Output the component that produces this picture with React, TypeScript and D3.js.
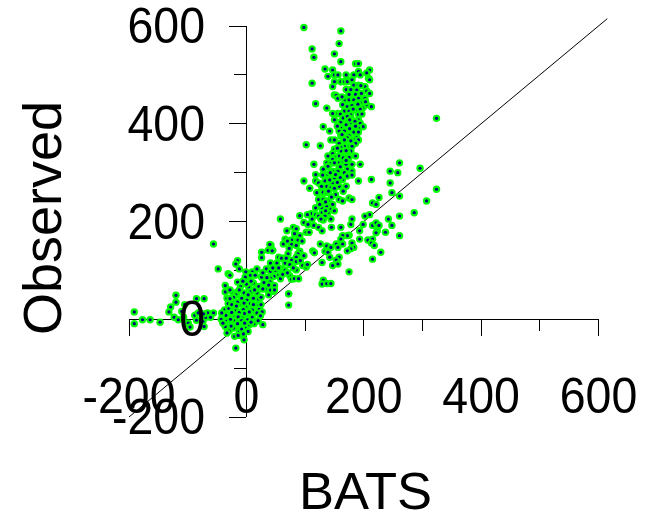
import React from 'react';
import * as d3 from 'd3';

const leftTail = [
  [-191, 15], [-191, -9], [-177, -1], [-164, -1], [-147, -6], [-120, 49], [-120, 35], [-129, 25], [-132, 15],
  [-123, 4], [-116, -1], [-105, 30], [-85, 42], [-72, 42], [-110, 16], [-107, 4], [-99, -8], [-96, -16],
  [-88, 8], [-82, 13], [-85, -2], [-72, -15], [-74, -4], [-69, 4], [-66, 13], [-56, 13], [-61, 4], [-73, 11],
  [-56, 154], [-48, 103],
];

const coreCluster = [
  [-15, 120], [-18, 113], [-31, 93], [-28, 90], [-12, 103], [-1, 97], [10, 97], [18, 103], [7, 90], [15, 90],
  [26, 86], [34, 103], [26, 137], [26, 126], [37, 141], [42, 151], [45, 141], [-2, 86], [-15, 76], [-36, 69],
  [-10, 67], [4, 66], [12, 74], [21, 67], [34, 62], [45, 57], [-36, 56], [-23, 54], [-15, 56], [-4, 54], [7, 56],
  [18, 54], [-33, 43], [-18, 50], [-8, 43], [12, 43], [1, 39], [21, 41], [-20, 36], [-31, 32], [-10, 32], [7, 32],
  [18, 28], [-26, 23], [-1, 25], [-18, 19], [-37, 19], [10, 19], [22, 21], [-31, 13], [-12, 14], [1, 9], [18, 13],
  [-41, 7], [-23, 7], [-7, 4], [10, 4], [-35, -1], [-18, -2], [2, -1], [15, -4], [-27, -8], [-10, -11], [-36, -15],
  [-1, -16], [-19, -16], [5, -11], [-29, -23], [-12, -25], [-20, -35], [3, -25], [-4, -42], [-18, -59], [-33, -28],
  [28, -11], [72, 52], [72, 29],
  [-28, 60], [-22, 45], [-15, 35], [-5, 20], [3, 50], [12, 30], [25, 30], [27, 15], [-38, 5], [-30, 22], [-22, -2],
  [-14, 5], [-3, 12], [5, 15], [13, -9], [-25, 14], [-35, 8], [-43, 0], [-27, 0], [-8, -3], [-3, -8], [8, -6],
  [-15, -9], [-22, -18], [-8, -20], [-14, -33], [-5, -30], [-26, -14], [-40, -8], [-42, 13], [24, 7], [20, -3],
  [25, 45], [28, 62], [38, 50], [-28, 42], [-12, 60], [0, 72], [8, 78], [-6, 78], [-25, 30], [-17, 27], [-4, 33],
  [14, 60],
];

const risingBranch = [
  [98, 597], [161, 590], [158, 564], [112, 553], [115, 536], [150, 543], [161, 527], [186, 523], [191, 523],
  [134, 512], [147, 510], [210, 510], [191, 507], [150, 500], [156, 500], [170, 500], [183, 500], [194, 500],
  [205, 504], [139, 497], [208, 493], [210, 490], [161, 486], [167, 486], [172, 486], [180, 490], [150, 486],
  [112, 483], [147, 476], [183, 479], [191, 479], [202, 476], [188, 469], [205, 467], [210, 462], [196, 462],
  [150, 459], [153, 458], [156, 452], [175, 459], [180, 456], [186, 460], [191, 452], [202, 452], [168, 449],
  [175, 449], [183, 449], [194, 443], [118, 441], [164, 439], [188, 441], [199, 433], [205, 439], [213, 435],
  [172, 435], [180, 437], [186, 428], [194, 430], [137, 432], [167, 426], [175, 426], [147, 421], [156, 421],
  [178, 418], [191, 419], [150, 408], [170, 408], [178, 411], [191, 408], [161, 404], [178, 401], [194, 401],
  [131, 394], [161, 391], [172, 394], [183, 394], [199, 394], [191, 391], [142, 385], [158, 385], [167, 385],
  [183, 383], [191, 383], [175, 376], [188, 372], [161, 375], [172, 371], [144, 367], [150, 367], [167, 367],
  [183, 367], [191, 367], [158, 360], [102, 357], [126, 355], [186, 360], [172, 354], [167, 354], [180, 354],
  [161, 351], [150, 348], [178, 344], [172, 341], [161, 344], [147, 339], [139, 334], [158, 334], [186, 334],
  [167, 333], [175, 331], [150, 331], [147, 327], [164, 324], [178, 317], [115, 317], [137, 320], [144, 319],
  [156, 320], [194, 317], [139, 313], [170, 317], [180, 317], [158, 310], [131, 307], [147, 303], [172, 307],
  [180, 303], [118, 296], [139, 296], [156, 303], [167, 300], [172, 293], [180, 295], [150, 289], [98, 283],
  [118, 283], [123, 279], [139, 286], [164, 286], [191, 283], [213, 286], [134, 283], [147, 279], [158, 272],
  [170, 272], [137, 272], [108, 268], [144, 269], [126, 260], [131, 260], [120, 259], [137, 259], [158, 245],
  [164, 242], [175, 248], [180, 245], [123, 245], [131, 245], [139, 242], [147, 235], [118, 228], [129, 228],
  [137, 231], [144, 225], [110, 216], [104, 214], [91, 212], [118, 214], [129, 218], [139, 218], [123, 211],
  [134, 211], [144, 205], [58, 205], [131, 203], [98, 198], [105, 194], [115, 192], [123, 188], [129, 181],
  [145, 188], [102, 178], [107, 178], [69, 181], [80, 188], [85, 185], [91, 171], [66, 164], [77, 162], [88, 162],
  [63, 154], [77, 153], [85, 151], [40, 153], [91, 139], [44, 140], [71, 134], [88, 134], [98, 130], [85, 127],
  [55, 127], [63, 125], [66, 115], [77, 121], [52, 115], [41, 115], [85, 118], [74, 112], [96, 110], [102, 107],
  [104, 112], [60, 103], [85, 101], [66, 100], [50, 98], [41, 98], [52, 90], [74, 89], [77, 82], [82, 83], [89, 83],
  [58, 83], [47, 88], [41, 84], [48, 69], [40, 77], [41, 60], [48, 60],
  [160, 420], [165, 412], [170, 398], [176, 390], [185, 405], [155, 395], [163, 378], [178, 365], [170, 345],
  [155, 350], [165, 330], [150, 320], [160, 312], [170, 325], [143, 300], [152, 296], [160, 290], [130, 295],
  [142, 285], [155, 280], [128, 272], [140, 262], [150, 268], [165, 262], [152, 255], [145, 250], [135, 240],
  [125, 235], [150, 222], [135, 222], [127, 205], [112, 205], [175, 460], [190, 440], [197, 420], [203, 445],
  [182, 430], [170, 470], [178, 470], [195, 478], [163, 455], [172, 415], [186, 395], [176, 408],
  [70, 160], [73, 145], [82, 175], [95, 160], [60, 125], [68, 125], [80, 105], [92, 120], [55, 105], [62, 92],
  [70, 95], [45, 105], [35, 85], [30, 75], [28, 95], [38, 70],
];

const lowerBranch = [
  [324, 411], [261, 320], [296, 309], [245, 303], [258, 300], [245, 279], [324, 266], [307, 242], [286, 218],
  [261, 252], [248, 259], [226, 249], [215, 238], [221, 235], [261, 211], [242, 205], [248, 192], [237, 178],
  [261, 171], [210, 214], [202, 211], [180, 205], [178, 194], [199, 194], [215, 192], [221, 197], [226, 192],
  [193, 181], [223, 181], [221, 177], [193, 164], [207, 162], [215, 164], [213, 156], [218, 151], [229, 137],
  [215, 123], [161, 188], [175, 172], [172, 171], [164, 171], [161, 164], [180, 156], [183, 147], [178, 144],
  [172, 140], [164, 154], [153, 154], [156, 147], [126, 154], [137, 150], [144, 147], [134, 139], [139, 137],
  [113, 140], [116, 136], [142, 127], [158, 127], [153, 121], [129, 116], [147, 110], [156, 113], [175, 97],
  [131, 80], [129, 72], [137, 73], [144, 73], [72, 52],
];

const allPoints = [...leftTail, ...coreCluster, ...risingBranch, ...lowerBranch];

const majorTicks = [-200, 0, 200, 400, 600];
const minorTicks = [-100, 100, 300, 500];
const xTickLabels = ['-200', '0', '200', '400', '600'];
const yTickLabels = ['-200', '0', '200', '400', '600'];
const identityLine = [-200, 615];

const x = d3.scaleLinear().domain([-200, 600]).range([129, 598.5]);
const y = d3.scaleLinear().domain([-200, 600]).range([417, 26]);

const App = () => {
  const lineFn = d3.line<number>().x(d => x(d)).y(d => y(d));
  const font = '"Liberation Sans", Arial, sans-serif';

  return (
    <svg
      width={646}
      height={512}
      style={{ position: 'absolute', left: 0, top: 0, background: '#fff' }}
      fontFamily={font}
    >
      <path d={lineFn(identityLine) || ''} fill="none" stroke="#000" strokeWidth={1} />

      {/* axes */}
      <g stroke="#000" strokeWidth={1} shapeRendering="crispEdges">
        <line x1={x(-200)} x2={x(600)} y1={y(0)} y2={y(0)} />
        <line x1={x(0)} x2={x(0)} y1={y(-200)} y2={y(600)} />
        {majorTicks.map(t => (
          <line key={`xM${t}`} x1={x(t)} x2={x(t)} y1={y(0)} y2={y(0) + 17} />
        ))}
        {minorTicks.map(t => (
          <line key={`xm${t}`} x1={x(t)} x2={x(t)} y1={y(0)} y2={y(0) + 12} />
        ))}
        {majorTicks.map(t => (
          <line key={`yM${t}`} x1={x(0) - 17} x2={x(0)} y1={y(t)} y2={y(t)} />
        ))}
        {minorTicks.map(t => (
          <line key={`ym${t}`} x1={x(0) - 12} x2={x(0)} y1={y(t)} y2={y(t)} />
        ))}
      </g>

      {/* points */}
      {allPoints.map((d, i) => (
        <g key={i}>
          <circle cx={x(d[0])} cy={y(d[1])} r={3.7} fill="#00ff00" />
          <circle cx={x(d[0])} cy={y(d[1])} r={1.6} fill="#000080" />
        </g>
      ))}

      {/* tick labels, slightly taller than wide like the original */}
      <g fontSize={46.5} fill="#000">
        {majorTicks.map((t, i) => (
          <text key={`xl${t}`} transform={`translate(${x(t)},413) scale(1,1.08)`} textAnchor="middle">
            {xTickLabels[i]}
          </text>
        ))}
        {majorTicks.map((t, i) => (
          <text key={`yl${t}`} transform={`translate(205,${y(t) + 17}) scale(1,1.08)`} textAnchor="end">
            {yTickLabels[i]}
          </text>
        ))}
      </g>

      <text x={365.5} y={509} textAnchor="middle" fontSize={52.5} fill="#000">BATS</text>
      <text
        transform="translate(61,218) rotate(-90)"
        textAnchor="middle"
        fontSize={54}
        fill="#000"
      >
        Observed
      </text>
    </svg>
  );
};

export default App;
